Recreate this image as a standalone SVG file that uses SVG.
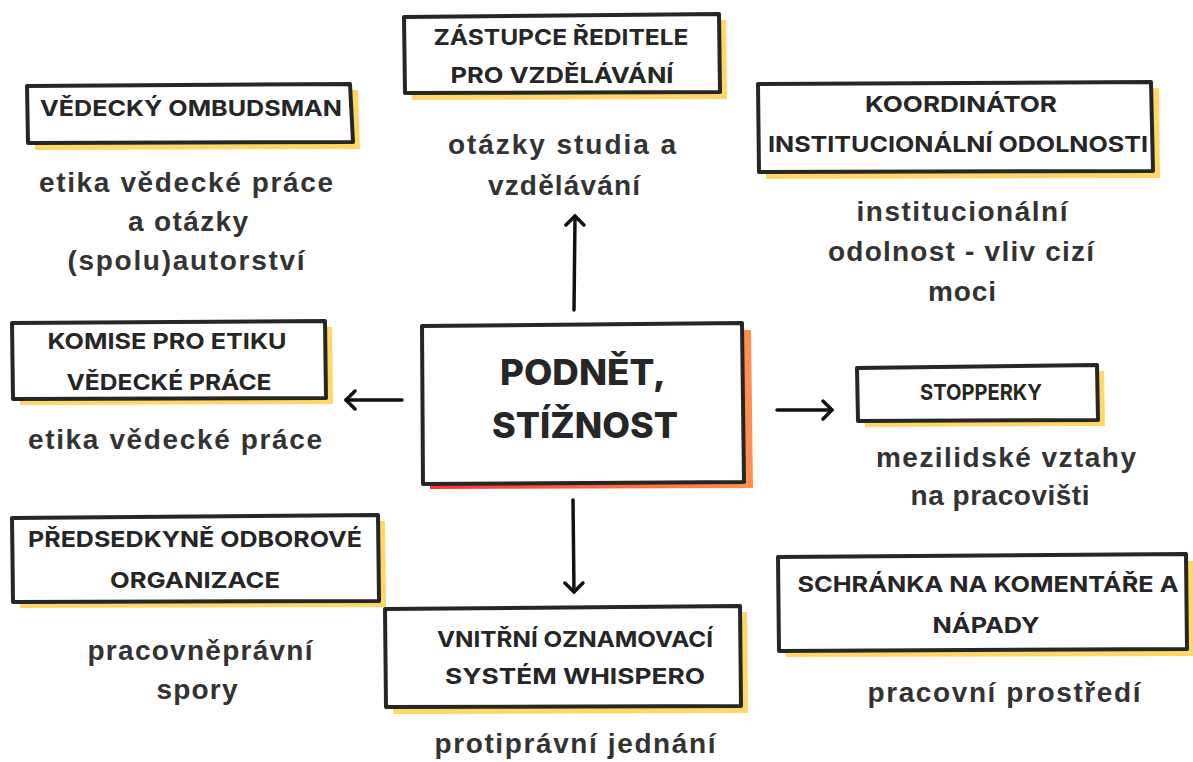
<svg xmlns="http://www.w3.org/2000/svg" width="1193" height="762" viewBox="0 0 1193 762">
<style>
.bg{fill:#ffffff}
.box{fill:#ffffff;stroke:#262626;stroke-width:4;stroke-linejoin:round}
.sh{fill:#ffd766}
.t{font-family:Inter,"Liberation Sans",sans-serif;font-weight:700;font-size:22px;fill:#262626;text-anchor:middle}
.big{font-family:Inter,"Liberation Sans",sans-serif;font-weight:800;font-size:35px;fill:#262626;text-anchor:middle}
.d{font-family:"Liberation Sans",Arial,sans-serif;font-weight:700;font-size:28px;fill:#333333;text-anchor:middle}
.arr{fill:none;stroke:#111111;stroke-width:3.5;stroke-linecap:round;marker-end:url(#head)}
</style>
<defs>
<marker id="head" viewBox="0 0 14 22" refX="11" refY="11" markerWidth="14" markerHeight="22" markerUnits="userSpaceOnUse" orient="auto">
<path d="M2,2 L11,11 L2,20" fill="none" stroke="#111111" stroke-width="3.5" stroke-linecap="round" stroke-linejoin="round"/>
</marker>
<linearGradient id="hot" x1="0" y1="0" x2="1" y2="0">
<stop offset="0" stop-color="#ff3131"/>
<stop offset="1" stop-color="#ff914d"/>
</linearGradient>
</defs>
<rect class="bg" x="0" y="0" width="1193" height="762"/>

<g id="connectors">
<path class="arr" d="M574,310 L575,216"/>
<path class="arr" d="M402,400 L346,400"/>
<path class="arr" d="M777,410 L832,410"/>
<path class="arr" d="M573,500 L574,592"/>
</g>

<g id="n-center">
<path fill="url(#hot)" d="M432,332 L751,330 L753,488 L430,489 Z"/>
<path class="box" d="M422,326 L742,323 L744,482 L423,484 Z"/>
<text class="big" x="583" y="385" textLength="166" lengthAdjust="spacingAndGlyphs">PODNĚT,</text>
<text class="big" x="585" y="438" textLength="186" lengthAdjust="spacingAndGlyphs">STÍŽNOST</text>
</g>

<g id="n-zastupce">
<path class="sh" d="M411,23 L726,20 L727,99 L412,100 Z"/>
<path class="box" d="M404,17 L719,14 L720,92 L405,93 Z"/>
<text class="t" x="561" y="45" textLength="255" lengthAdjust="spacingAndGlyphs">ZÁSTUPCE ŘEDITELE</text>
<text class="t" x="562" y="83" textLength="223" lengthAdjust="spacingAndGlyphs">PRO VZDĚLÁVÁNÍ</text>
</g>

<g id="n-ombudsman">
<path class="sh" d="M34,92 L358,90 L360,149 L35,150 Z"/>
<path class="box" d="M27,86 L350,84 L353,142 L28,143 Z"/>
<text class="t" x="191" y="116" textLength="302" lengthAdjust="spacingAndGlyphs">VĚDECKÝ OMBUDSMAN</text>
</g>

<g id="n-koordinator">
<path class="sh" d="M765,90 L1159,88 L1160,178 L766,179 Z"/>
<path class="box" d="M758,84 L1151,82 L1153,171 L759,172 Z"/>
<text class="t" x="961" y="112" textLength="192" lengthAdjust="spacingAndGlyphs">KOORDINÁTOR</text>
<text class="t" x="958" y="152" textLength="380" lengthAdjust="spacingAndGlyphs">INSTITUCIONÁLNÍ ODOLNOSTI</text>
</g>

<g id="n-komise">
<path class="sh" d="M19,329 L332,327 L333,404 L20,405 Z"/>
<path class="box" d="M12,323 L325,321 L326,398 L13,399 Z"/>
<text class="t" x="167" y="349" textLength="239" lengthAdjust="spacingAndGlyphs">KOMISE PRO ETIKU</text>
<text class="t" x="169" y="390" textLength="205" lengthAdjust="spacingAndGlyphs">VĚDECKÉ PRÁCE</text>
</g>

<g id="n-stopperky">
<path class="sh" d="M864,374 L1104,371 L1105,426 L865,427 Z"/>
<path class="box" d="M857,368 L1097,365 L1098,420 L858,421 Z"/>
<text class="t" x="981" y="400" textLength="122" lengthAdjust="spacingAndGlyphs">STOPPERKY</text>
</g>

<g id="n-predsedkyne">
<path class="sh" d="M19,523 L385,521 L386,607 L20,608 Z"/>
<path class="box" d="M12,518 L378,515 L379,601 L13,602 Z"/>
<text class="t" x="195" y="547" textLength="334" lengthAdjust="spacingAndGlyphs">PŘEDSEDKYNĚ ODBOROVÉ</text>
<text class="t" x="195" y="588" textLength="170" lengthAdjust="spacingAndGlyphs">ORGANIZACE</text>
</g>

<g id="n-schranka">
<path class="sh" d="M785,563 L1193,561 L1193,656 L786,657 Z"/>
<path class="box" d="M778,557 L1186,554 L1187,649 L779,651 Z"/>
<text class="t" x="988" y="592" textLength="381" lengthAdjust="spacingAndGlyphs">SCHRÁNKA NA KOMENTÁŘE A</text>
<text class="t" x="986" y="633" textLength="107" lengthAdjust="spacingAndGlyphs">NÁPADY</text>
</g>

<g id="n-vnitrni">
<path class="sh" d="M392,614 L747,612 L748,713 L393,714 Z"/>
<path class="box" d="M385,609 L740,606 L741,706 L386,707 Z"/>
<text class="t" x="575" y="647" textLength="276" lengthAdjust="spacingAndGlyphs">VNITŘNÍ OZNAMOVACÍ</text>
<text class="t" x="575" y="684" textLength="260" lengthAdjust="spacingAndGlyphs">SYSTÉM WHISPERO</text>
</g>

<g id="descriptions">
<text class="d" x="562" y="154" textLength="228">otázky studia a</text>
<text class="d" x="564" y="195" textLength="152">vzdělávání</text>
<text class="d" x="186" y="192" textLength="294">etika vědecké práce</text>
<text class="d" x="188" y="231" textLength="120">a otázky</text>
<text class="d" x="186" y="270" textLength="237">(spolu)autorství</text>
<text class="d" x="962" y="221" textLength="211">institucionální</text>
<text class="d" x="961" y="261" textLength="266">odolnost - vliv cizí</text>
<text class="d" x="962" y="301" textLength="68">moci</text>
<text class="d" x="175" y="449" textLength="294">etika vědecké práce</text>
<text class="d" x="1006" y="467" textLength="260">mezilidské vztahy</text>
<text class="d" x="1000" y="505" textLength="179">na pracovišti</text>
<text class="d" x="200" y="660" textLength="225">pracovněprávní</text>
<text class="d" x="197" y="699" textLength="81">spory</text>
<text class="d" x="1004" y="702" textLength="273">pracovní prostředí</text>
<text class="d" x="575" y="753" textLength="281">protiprávní jednání</text>
</g>
</svg>
